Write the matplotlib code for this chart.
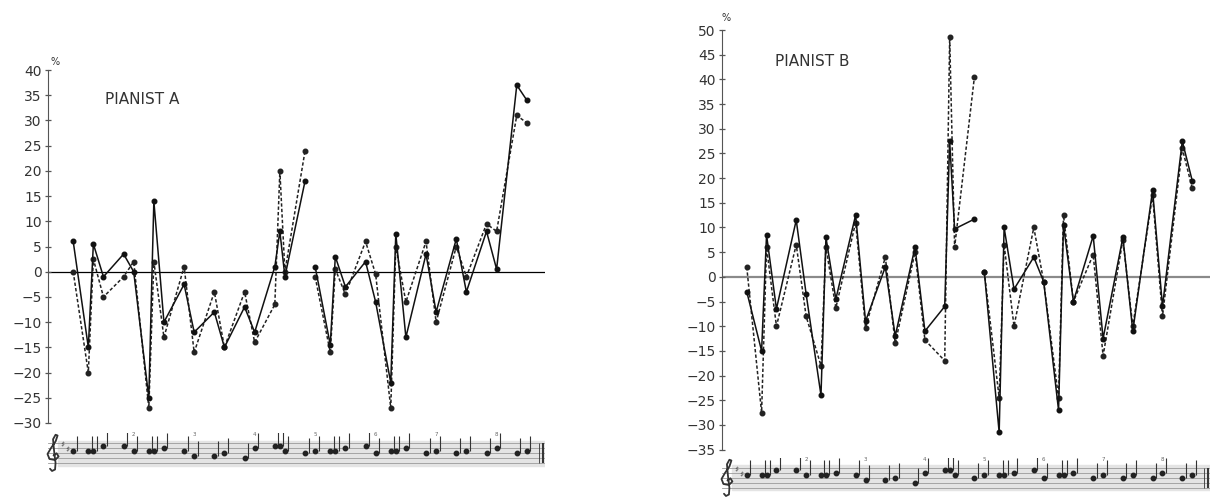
import numpy as np
import matplotlib.pyplot as plt

# note onsets in eighth notes (shared by both pianists)
beats = [0, 1.5, 2, 3, 5, 6, 7.5, 8, 9, 11, 12, 14, 15, 17, 18, 20, 20.5, 21, 23,
         24, 25.5, 26, 27, 29, 30, 31.5, 32, 33, 35, 36, 38, 39, 41, 42, 44, 45]
brk = 19  # phrase break, the lines are not joined here

a_solid = [6, -15, 5.5, -1, 3.5, 0, -25, 14, -10, -2.5, -12, -8, -15, -7, -12, 1, 8, -1, 18,
           1, -14.5, 3, -3, 2, -6, -22, 7.5, -13, 3.5, -8, 6.5, -4, 8, 0.5, 37, 34]
a_dash = [0, -20, 2.5, -5, -1, 2, -27, 2, -13, 1, -16, -4, -15, -4, -14, -6.5, 20, 0, 24,
          -1, -16, 0.5, -4.5, 6, -0.5, -27, 5, -6, 6, -10, 5, -1, 9.5, 8, 31, 29.5]

b_solid = [-3, -15, 8.5, -6.5, 11.5, -3.5, -24, 8, -4.5, 12.5, -9, 2, -12, 6, -11, -6, 27.5, 9.7, 11.7,
           1, -31.5, 10, -2.5, 4, -1, -27, 10.5, -5, 8.3, -12.5, 8, -11, 17.5, -6, 27.5, 19.5]
b_dash = [2, -27.5, 6, -10, 6.5, -8, -18, 6, -6.3, 11, -10.3, 4, -13.5, 5, -12.8, -17, 48.5, 6, 40.5,
          1, -24.5, 6.5, -10, 10, -1, -24.5, 12.5, -5, 4.5, -16, 7.5, -10, 16.5, -8, 26, 18]

# rough staff step of each note head (0 = bottom line, 8 = top line)
pitch = [5, 5, 5, 7, 7, 5, 5, 5, 6, 5, 3, 3, 4, 2, 6, 7, 7, 5, 4,
         5, 5, 5, 6, 7, 4, 5, 5, 6, 4, 5, 4, 5, 4, 6, 4, 5]
bar_nums = ['2', '3', '4', '5', '6', '7', '8']
bar_pos = [6, 12, 18, 24, 30, 36, 42]

# G clef has no glyph in the installed fonts, so it is traced as a line
clef_x = [-1.95, -1.65, -1.45, -1.8, -2.35, -2.55, -2.2, -1.75, -1.55, -1.75, -2.0, -1.9, -1.75, -1.8, -2.1, -2.3]
clef_y = [3.0, 3.9, 2.6, 1.2, 1.6, 3.6, 6.0, 8.6, 11.0, 11.3, 9.5, 5.0, 0.0, -2.6, -3.2, -2.3]

x = np.array(beats)
W, H = 1211, 497
fig = plt.figure(figsize=(W / 100, H / 100), dpi=100)

def px(l, t, r, b):
    return [l / W, 1 - b / H, (r - l) / W, (b - t) / H]

def panel(rect, ylo, yhi, solid, dash, zero_col, zero_lw, name, name_xy, pct_xy):
    ax = fig.add_axes(rect)
    for seg in (slice(0, brk), slice(brk, None)):
        ax.plot(x[seg], np.array(dash)[seg], color='#222222', lw=1.1, ls=(0, (2.2, 1.4)),
                marker='o', ms=3.3)
        ax.plot(x[seg], np.array(solid)[seg], color='#111111', lw=1.1, marker='o', ms=3.3)
    ax.axhline(0, color=zero_col, lw=zero_lw, zorder=0)
    ax.set_xlim(-2.5, 46.8)
    ax.set_ylim(ylo, yhi)
    ax.set_yticks(np.arange(ylo, yhi + 1, 5))
    ax.set_xticks([])
    for s in ['top', 'right', 'bottom']:
        ax.spines[s].set_visible(False)
    ax.spines['left'].set_color('#555555')
    ax.tick_params(axis='y', direction='inout', length=5, width=0.9, color='#555555',
                   labelsize=10, labelcolor='#333333', pad=2)
    ax.patch.set_alpha(0)
    fig.text(name_xy[0] / W, 1 - name_xy[1] / H, name, fontsize=11, color='#333333', va='center')
    fig.text(pct_xy[0] / W, 1 - pct_xy[1] / H, '%', fontsize=7, color='#333333', va='center')
    return ax

def staff(rect):
    sx = fig.add_axes(rect)
    sx.set_xlim(-2.5, 46.8)
    sx.set_ylim(-4, 12)
    sx.axis('off')
    sx.axhspan(-1, 9, xmin=0.02, color='#e4e4e4', zorder=0)
    for k in range(0, 9, 2):
        sx.axhline(k, xmin=0.0, color='#9a9a9a', lw=0.6, zorder=1)
    sx.plot(clef_x, clef_y, color='#333333', lw=1.3, clip_on=False, solid_capstyle='round')
    sx.text(-1.3, 7.5, '\u266f', fontsize=6, va='center', color='#333333')
    sx.text(-0.8, 5.5, '\u266f', fontsize=6, va='center', color='#333333')
    p = np.array(pitch)
    sx.vlines(x + 0.35, p, p + 6, color='#333333', lw=0.8, zorder=2)
    sx.plot(x, p, 'o', color='#222222', ms=3.2, zorder=3)
    for b, t in zip(bar_pos, bar_nums):
        sx.text(b, 11.5, t, fontsize=4, ha='center', va='center', color='#666666')
    sx.vlines([46.2, 46.6], 0, 8, color='#333333', lw=[0.6, 1.4])
    return sx

panel(px(48, 70, 545, 423), -30, 40, a_solid, a_dash, 'black', 0.9,
      'PIANIST A', (105, 100), (50, 62))
staff(px(48, 433, 545, 473))

panel(px(722, 30, 1210, 449.6), -35, 50, b_solid, b_dash, '#8a8a8a', 1.6,
      'PIANIST B', (775, 62), (721, 18))
staff(px(722, 458, 1210, 498))

plt.savefig('out.png', dpi=100)
